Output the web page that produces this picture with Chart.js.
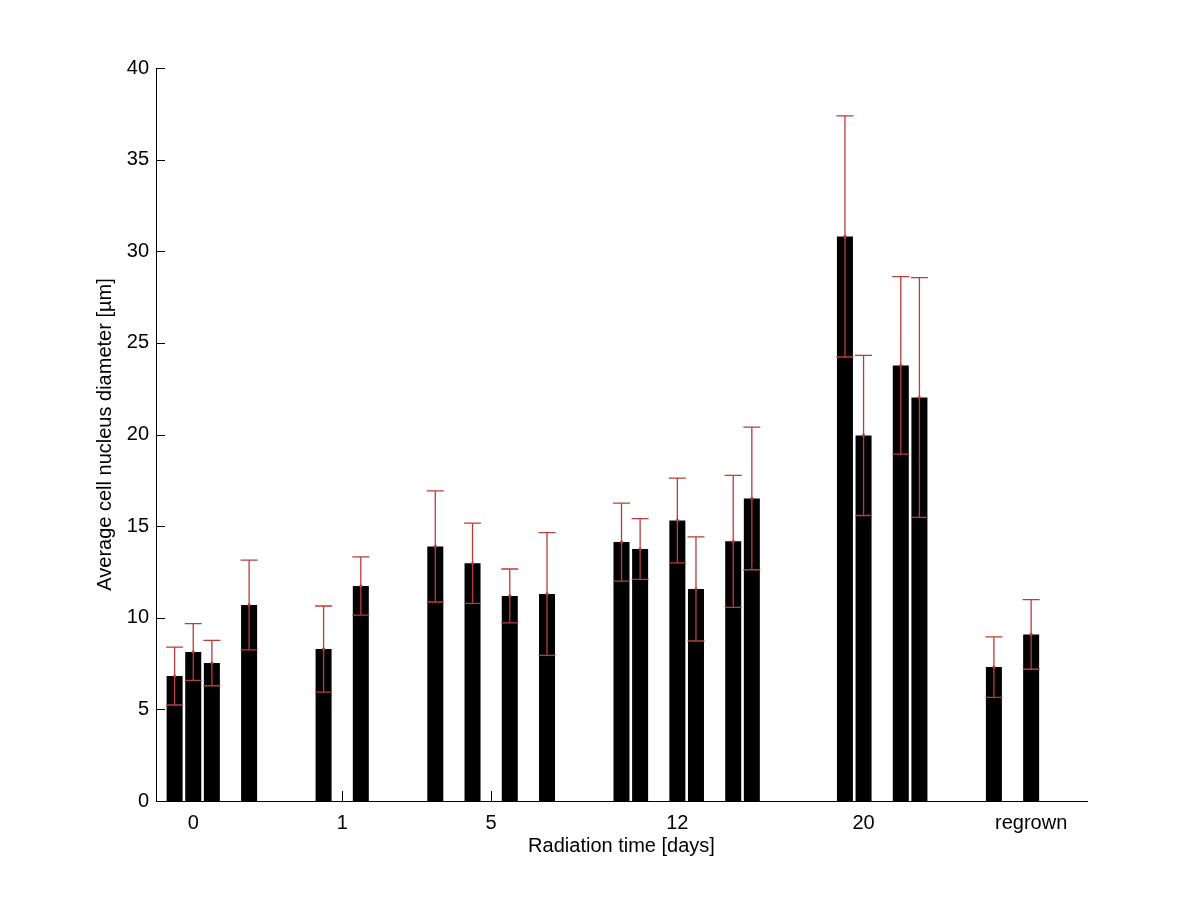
<!DOCTYPE html>
<html>
<head>
<meta charset="utf-8">
<script src="https://cdn.jsdelivr.net/npm/chart.js@4/dist/chart.umd.min.js"></script>
<style>
    body { margin: 0; background: #fff; }
    #wrap { width: 1200px; height: 900px; }
</style>
</head>
<body>
<div id="wrap"><canvas id="nucleusChart" width="1200" height="900"></canvas></div>
<script>
// bar slots along the x axis (one unit = one bar width slot)
const barSlots = [0, 1, 2, 4, 8, 10, 14, 16, 18, 20, 24, 25, 27, 28, 30, 31, 36, 37, 39, 40, 44, 46];
const meanDiameter = [6.82, 8.13, 7.53, 10.70, 8.29, 11.73, 13.89, 12.97, 11.19, 11.30, 14.13, 13.75,
                      15.31, 11.57, 14.17, 16.51, 30.81, 19.95, 23.77, 22.02, 7.31, 9.09];
const errDiameter = [1.58, 1.55, 1.24, 2.45, 2.35, 1.59, 3.03, 2.19, 1.47, 3.35, 2.13, 1.66,
                     2.31, 2.84, 3.60, 3.89, 6.58, 4.37, 4.84, 6.54, 1.65, 1.90];
const tickSlots = [1, 9, 17, 27, 37, 46];
const tickLabels = ['0', '1', '5', '12', '20', 'regrown'];
const yTicks = [0, 5, 10, 15, 20, 25, 30, 35, 40];

const FONT = "'Liberation Sans', Arial, Helvetica, sans-serif";
const ERR_COLOR = 'rgb(185, 60, 60)';

class NucleusChart
{
    constructor(id)
    {
        this.chart = null;
        this.initChart(id);
    }

    buildData()
    {
        let points = barSlots.map(function(s, i) {
            return {x: s, y: meanDiameter[i]};
        });
        return {
            datasets: [{
                data: points,
                backgroundColor: '#000000',
                borderWidth: 0,
                barPercentage: 0.86,
                categoryPercentage: 1.0
            }]
        };
    }

    // error bars with caps, drawn through the scales
    errorBarPlugin()
    {
        return {
            id: 'errorBars',
            afterDatasetsDraw(chart) {
                let ctx = chart.ctx;
                let xs = chart.scales.x;
                let ys = chart.scales.y;
                ctx.save();
                ctx.strokeStyle = ERR_COLOR;
                ctx.fillStyle = ERR_COLOR;
                ctx.lineWidth = 1.3;
                for (let i = 0; i < barSlots.length; i++) {
                    let x = xs.getPixelForValue(barSlots[i]);
                    let yHi = ys.getPixelForValue(meanDiameter[i] + errDiameter[i]);
                    let yLo = ys.getPixelForValue(meanDiameter[i] - errDiameter[i]);
                    let yMid = ys.getPixelForValue(meanDiameter[i]);
                    let half = 8.5;
                    ctx.beginPath();
                    ctx.moveTo(x, yHi); ctx.lineTo(x, yLo);
                    ctx.moveTo(x - half, yHi); ctx.lineTo(x + half, yHi);
                    ctx.moveTo(x - half, yLo); ctx.lineTo(x + half, yLo);
                    ctx.stroke();
                    ctx.beginPath();
                    ctx.arc(x, yMid, 1.6, 0, Math.PI * 2);
                    ctx.fill();
                }
                ctx.restore();
            }
        };
    }

    // inward tick marks like the original plot
    tickMarkPlugin()
    {
        return {
            id: 'tickMarks',
            beforeDatasetsDraw(chart) {
                let ctx = chart.ctx;
                let xs = chart.scales.x;
                let area = chart.chartArea;
                ctx.save();
                ctx.strokeStyle = '#000';
                ctx.lineWidth = 1;
                ctx.beginPath();
                tickSlots.forEach(function(s) {
                    let x = Math.round(xs.getPixelForValue(s)) + 0.5;
                    ctx.moveTo(x, area.bottom);
                    ctx.lineTo(x, area.bottom - 10);
                });
                ctx.stroke();
                ctx.restore();
            },
            afterDraw(chart) {
                let ctx = chart.ctx;
                let ys = chart.scales.y;
                let area = chart.chartArea;
                ctx.save();
                ctx.strokeStyle = '#000';
                ctx.lineWidth = 1;
                ctx.beginPath();
                yTicks.forEach(function(v) {
                    let y = Math.round(ys.getPixelForValue(v)) + 0.5;
                    ctx.moveTo(area.left, y);
                    ctx.lineTo(area.left + 9, y);
                });
                ctx.stroke();
                ctx.restore();
            }
        };
    }

    initChart(id)
    {
        let chartContext = document.getElementById(id).getContext('2d');
        this.chart = new Chart(chartContext, {
            type: 'bar',
            data: this.buildData(),
            plugins: [this.tickMarkPlugin(), this.errorBarPlugin()],
            options: {
                responsive: false,
                animation: false,
                layout: { padding: { left: 0, top: 68, right: 113, bottom: 0 } },
                plugins: {
                    legend: { display: false },
                    tooltip: { enabled: false }
                },
                scales: {
                    x: {
                        type: 'linear',
                        min: -1,
                        max: 49,
                        offset: false,
                        afterBuildTicks: function(scale) {
                            scale.ticks = tickSlots.map(function(v) { return {value: v}; });
                        },
                        afterFit: function(scale) { scale.height = 99; },
                        grid: { display: false, drawTicks: false },
                        border: { display: true, color: '#000', width: 1 },
                        ticks: {
                            color: '#000',
                            padding: 10,
                            maxRotation: 0,
                            autoSkip: false,
                            font: { family: FONT, size: 20 },
                            callback: function(value, index) { return tickLabels[index]; }
                        },
                        title: {
                            display: true,
                            text: 'Radiation time [days]',
                            color: '#000',
                            font: { family: FONT, size: 20 },
                            padding: { top: 0, bottom: 42 }
                        }
                    },
                    y: {
                        min: 0,
                        max: 40,
                        afterFit: function(scale) { scale.width = 156; },
                        grid: { display: false, drawTicks: false },
                        border: { display: true, color: '#000', width: 1 },
                        ticks: {
                            stepSize: 5,
                            color: '#000',
                            padding: 7,
                            font: { family: FONT, size: 20 }
                        },
                        title: {
                            display: true,
                            text: 'Average cell nucleus diameter [µm]',
                            color: '#000',
                            font: { family: FONT, size: 20 },
                            padding: { top: 93, bottom: 0 }
                        }
                    }
                }
            }
        });
    }
}

new NucleusChart('nucleusChart');
</script>
</body>
</html>
